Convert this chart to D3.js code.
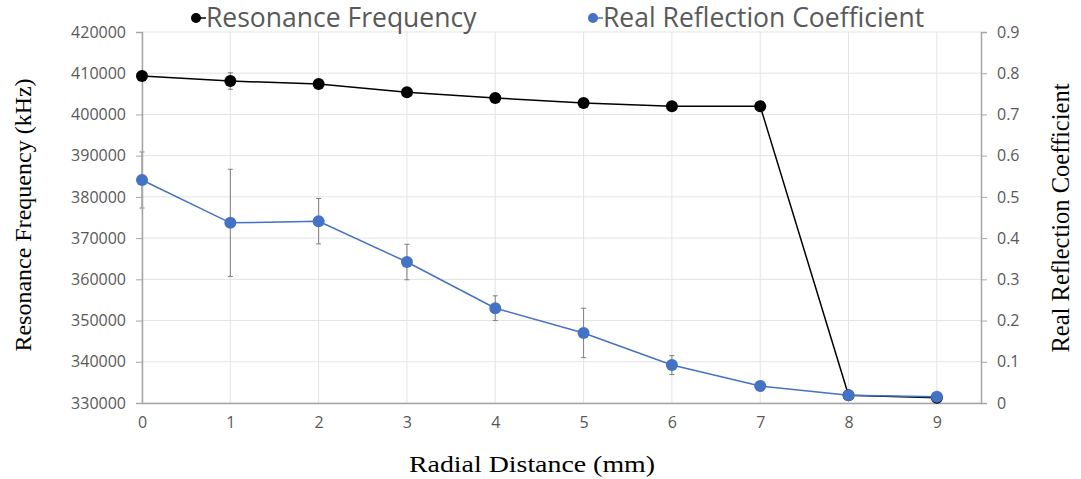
<!DOCTYPE html>
<html>
<head>
<meta charset="utf-8">
<script src="https://cdn.jsdelivr.net/npm/d3@7"></script>
<style>
  body { margin: 0; background: #fff; }
  svg { display: block; }
</style>
</head>
<body>
<svg id="chart" width="1081" height="479"></svg>
<script>
const distances = [0, 1, 2, 3, 4, 5, 6, 7, 8, 9];
const frequency = [409300, 408100, 407400, 405400, 404000, 402800, 402000, 402000, 331900, 331300];
const frequencyErr = [0, 2000, 0, 800, 0, 0, 0, 0, 0, 0];
const reflection = [0.541, 0.437, 0.441, 0.342, 0.230, 0.170, 0.092, 0.041, 0.019, 0.015];
const reflectionErr = [0.068, 0.13, 0.055, 0.043, 0.03, 0.06, 0.023, 0, 0, 0];
const leftTicks = [330000, 340000, 350000, 360000, 370000, 380000, 390000, 400000, 410000, 420000];
const rightTicks = [0, 0.1, 0.2, 0.3, 0.4, 0.5, 0.6, 0.7, 0.8, 0.9];

const svg = d3.select('#chart');
const margin = { top: 32, right: 100, bottom: 76, left: 142 };
const W = 1081, H = 479;
const x = d3.scaleLinear().domain([0, 9.5]).range([margin.left, W - margin.right]);
const yL = d3.scaleLinear().domain([330000, 420000]).range([H - margin.bottom, margin.top]);
const yR = d3.scaleLinear().domain([0, 0.9]).range([H - margin.bottom, margin.top]);

const tickFont = '"Open Sans", sans-serif';
const gray = '#595959';

// gridlines
svg.append('g').selectAll('line.h').data(leftTicks).enter().append('line')
  .attr('x1', x(0)).attr('x2', x(9.5))
  .attr('y1', d => yL(d)).attr('y2', d => yL(d))
  .attr('stroke', '#e3e3e3').attr('stroke-width', 1);
svg.append('g').selectAll('line.v').data(distances).enter().append('line')
  .attr('x1', d => x(d)).attr('x2', d => x(d))
  .attr('y1', yL(420000)).attr('y2', yL(330000))
  .attr('stroke', '#e3e3e3').attr('stroke-width', 1);

// error bars (under the axis line so the one at 0 hides like in excel)
function errorBars(values, errs, y, color) {
  const g = svg.append('g');
  const data = distances.map((d, i) => ({ d, v: values[i], e: errs[i] })).filter(p => p.e > 0);
  g.selectAll('line.bar').data(data).enter().append('line')
    .attr('x1', p => x(p.d)).attr('x2', p => x(p.d))
    .attr('y1', p => y(p.v - p.e)).attr('y2', p => y(p.v + p.e))
    .attr('stroke', color).attr('stroke-width', 1);
  [-1, 1].forEach(s => {
    g.append('g').selectAll('line').data(data).enter().append('line')
      .attr('x1', p => x(p.d) - 2.5).attr('x2', p => x(p.d) + 2.5)
      .attr('y1', p => y(p.v + s * p.e))
      .attr('y2', p => y(p.v + s * p.e))
      .attr('stroke', color).attr('stroke-width', 1);
  });
}
errorBars(reflection, reflectionErr, yR, '#7f7f7f');
errorBars(frequency, frequencyErr, yL, '#7f7f7f');

// axes
const leftAxis = svg.append('g').attr('transform', `translate(${x(0)},0)`)
  .call(d3.axisLeft(yL).tickValues(leftTicks).tickSize(6).tickPadding(10).tickFormat(d3.format('d')));
const rightAxis = svg.append('g').attr('transform', `translate(${x(9.5)},0)`)
  .call(d3.axisRight(yR).tickValues(rightTicks).tickSize(6).tickPadding(10).tickFormat(d => d === 0 ? '0' : d3.format('.1f')(d)));
const bottomAxis = svg.append('g').attr('transform', `translate(0,${yL(330000)})`)
  .call(d3.axisBottom(x).tickValues(distances).tickSize(0).tickPadding(14).tickFormat(d3.format('d')));

[leftAxis, rightAxis, bottomAxis].forEach(g => {
  g.select('.domain').attr('stroke', '#a6a6a6').attr('stroke-width', 1.5);
  g.selectAll('.tick line').attr('stroke', '#a6a6a6');
  g.selectAll('.tick text').attr('fill', gray).style('font-family', tickFont).style('font-size', '16px');
});

// series
function series(values, y, color, width) {
  const line = d3.line().x((d, i) => x(distances[i])).y(d => y(d));
  svg.append('path').datum(values).attr('d', line)
    .attr('fill', 'none').attr('stroke', color).attr('stroke-width', width);
  svg.append('g').selectAll('circle').data(values).enter().append('circle')
    .attr('cx', (d, i) => x(distances[i])).attr('cy', d => y(d)).attr('r', 6)
    .attr('fill', color);
}
series(frequency, yL, '#000000', 1.5);
series(reflection, yR, '#4472c4', 1.5);

// legend
const legend = [
  { label: 'Resonance Frequency', color: '#000000', x: 196 },
  { label: 'Real Reflection Coefficient', color: '#4472c4', x: 593 }
];
legend.forEach(l => {
  const g = svg.append('g').attr('transform', `translate(${l.x},18)`);
  g.append('line').attr('x1', -4).attr('x2', 10).attr('y1', 0).attr('y2', 0)
    .attr('stroke', l.color).attr('stroke-width', 1.5);
  g.append('circle').attr('r', 5).attr('fill', l.color);
  g.append('text').attr('x', 10).attr('y', 9).text(l.label)
    .attr('fill', gray).style('font-family', tickFont).style('font-size', '26.5px');
});

// axis titles
const titleFont = '"Liberation Serif", "Times New Roman", serif';
svg.append('text').attr('transform', 'translate(31,215) rotate(-90)')
  .attr('text-anchor', 'middle').text('Resonance Frequency (kHz)')
  .style('font-family', titleFont).style('font-size', '24px').attr('fill', '#000');
svg.append('text').attr('transform', 'translate(1069,218) rotate(-90)')
  .attr('text-anchor', 'middle').text('Real Reflection Coefficient')
  .style('font-family', titleFont).style('font-size', '24.5px').attr('fill', '#000');
svg.append('text').attr('x', 409).attr('y', 472)
  .attr('textLength', 246).attr('lengthAdjust', 'spacingAndGlyphs')
  .text('Radial Distance (mm)')
  .style('font-family', titleFont).style('font-size', '24px').attr('fill', '#000');
</script>
</body>
</html>
